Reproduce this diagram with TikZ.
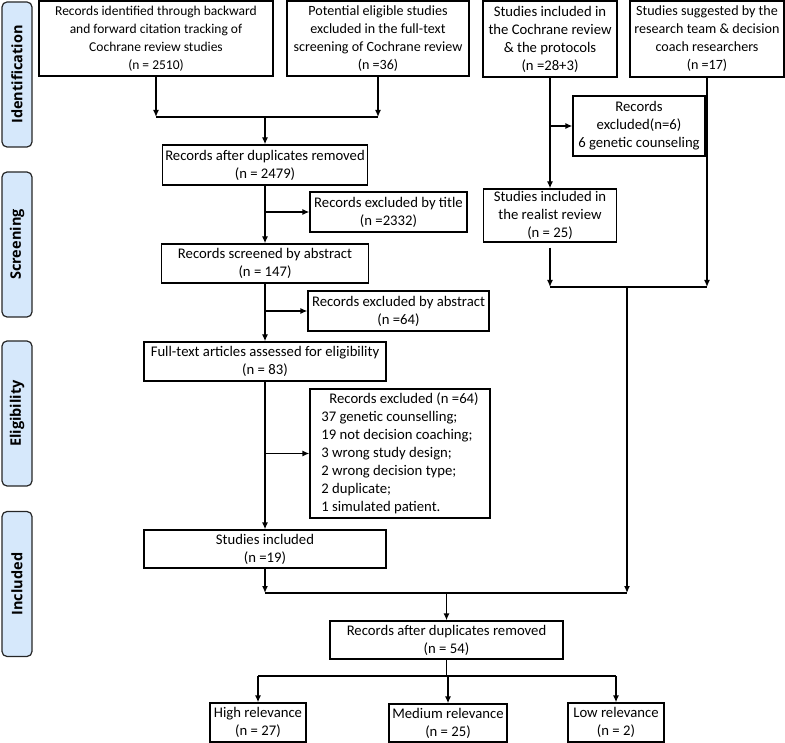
\documentclass[tikz,border=0pt]{standalone}
\usepackage{fontspec}
\setmainfont{Carlito}
\newfontfamily\phasefont{Open Sans}
\usetikzlibrary{arrows.meta,positioning}
\definecolor{phase}{HTML}{D6E8FB}
\tikzset{
  box/.style={draw=black, line width=1.3pt, fill=white, align=center, inner sep=1pt,
    font=\fontsize{14.7}{18}\selectfont},
  fs135/.style={font=\fontsize{13.5}{18}\selectfont},
  fs141/.style={font=\fontsize{14.1}{18}\selectfont},
  phasebox/.style={draw=black!85, line width=1.2pt, fill=phase, rounded corners=5pt,
    minimum width=30pt, minimum height=145pt, inner sep=0pt},
  phasetext/.style={rotate=90, font=\phasefont\fontsize{14.5}{16}\selectfont\bfseries},
  arr/.style={line width=1.3pt, -{Latex[length=7pt,width=6pt]}},
  ln/.style={line width=1.3pt},
}
\begin{document}
\begin{tikzpicture}[x=1pt,y=-1pt]
\useasboundingbox (0,0) rectangle (785,743);
% phases
\node[phasebox] (pI) at (17,74.5) {};
\node[phasetext] (tI) at (pI.center) {Identification};
\node[phasebox] (pS) at (17,244.5) {};
\node[phasetext] (tS) at (pS.center) {Screening};
\node[phasebox] (pE) at (17,413.5) {};
\node[phasetext] (tE) at (pE.center) {Eligibility};
\node[phasebox] (pN) at (17,584) {};
\node[phasetext] (tN) at (pN.center) {Included};
% top boxes
\node[box, fs135, minimum width=234, minimum height=75] (b1) at (156,38.5)
  {Records identified through backward\\and forward citation tracking of\\Cochrane review studies\\(n = 2510)};
\node[box, fs141, minimum width=182, minimum height=75] (b2) at (378,38.5)
  {Potential eligible studies\\excluded in the full-text\\screening of Cochrane review\\(n =36)};
\node[box, minimum width=134, minimum height=76] (b3) at (550,39)
  {Studies included in\\the Cochrane review\\\& the protocols\\(n =28+3)};
\node[box, fs141, minimum width=154, minimum height=76] (b4) at (707,39)
  {Studies suggested by the\\research team \& decision\\coach researchers\\(n =17)};
% left column
\node[box, minimum width=205, minimum height=40] (dup1) at (265,165)
  {Records after duplicates removed\\(n = 2479)};
\node[box, minimum width=157, minimum height=40] (extitle) at (388.5,212)
  {Records excluded by title\\(n =2332)};
\node[box, minimum width=207, minimum height=39] (abs) at (265,263.5)
  {Records screened by abstract\\(n = 147)};
\node[box, minimum width=181, minimum height=40] (exabs) at (398.5,311)
  {Records excluded by abstract\\(n =64)};
\node[box, minimum width=242, minimum height=39] (full) at (265,361.5)
  {Full-text articles assessed for eligibility\\(n = 83)};
\node[box, minimum width=180, minimum height=129, align=left] (ex64) at (400,453.5)
  {\hspace*{8pt}Records excluded (n =64)\\37 genetic counselling;\\19 not decision coaching;\\3 wrong study design;\\2 wrong decision type;\\2 duplicate;\\1 simulated patient.};
\node[box, minimum width=242, minimum height=38] (incl) at (265,549)
  {Studies included\\(n =19)};
% right column
\node[box, minimum width=132, minimum height=60] (ex6) at (639,126)
  {Records\\excluded(n=6)\\6 genetic counseling};
\node[box, minimum width=133, minimum height=53, inner sep=0pt] (real) at (550,215.5)
  {Studies included in\\the realist review\\(n = 25)};
% bottom
\node[box, minimum width=233, minimum height=38] (dup2) at (446.5,640)
  {Records after duplicates removed\\(n = 54)};
\node[box, minimum width=96, minimum height=39] (high) at (258,722.5)
  {High relevance\\(n = 27)};
\node[box, minimum width=118, minimum height=38] (med) at (448,723)
  {Medium relevance\\(n = 25)};
\node[box, minimum width=96, minimum height=39] (low) at (616,722.5)
  {Low relevance\\(n = 2)};
% junction coordinates
\coordinate (m1) at (265,117);
\coordinate (m2) at (627,287);
\coordinate (m4) at (627,593);
\coordinate (m5) at (446.5,676);
% connectors top-left
\draw[arr] (b1.south) -- (b1.south |- m1);
\draw[arr] (b2.south) -- (b2.south |- m1);
\draw[ln] (b1.south |- m1) -- (b2.south |- m1);
\draw[arr] (m1) -- (dup1.north);
\draw[arr] (dup1.south) -- (abs.north);
\draw[arr] (dup1.south |- extitle.west) -- (extitle.west);
\draw[arr] (abs.south) -- (full.north);
\draw[arr] (abs.south |- exabs.west) -- (exabs.west);
\draw[arr] (full.south) -- (incl.north);
\draw[arr] (full.south |- ex64.west) -- (ex64.west);
% right
\draw[arr] (b3.south) -- (real.north);
\draw[arr] (b3.south |- ex6.west) -- (ex6.west);
\draw[arr] ([yshift=-5pt]real.south) -- (real.south |- m2);
\draw[arr] (b4.south) -- (b4.south |- m2);
\draw[ln] (real.south |- m2) -- (b4.south |- m2);
\draw[arr] (m2) -- (m4);
\draw[arr] (incl.south) -- (incl.south |- m4);
\draw[ln] (incl.south |- m4) -- (m4);
\draw[arr] (dup2.north |- m4) -- (dup2.north);
% bottom
\draw[ln] (dup2.south) -- (m5);
\draw[ln] (high.north |- m5) -- (low.north |- m5);
\draw[arr] (high.north |- m5) -- (high.north);
\draw[arr] (med.north |- m5) -- (med.north);
\draw[arr] (low.north |- m5) -- (low.north);
\end{tikzpicture}
\end{document}
